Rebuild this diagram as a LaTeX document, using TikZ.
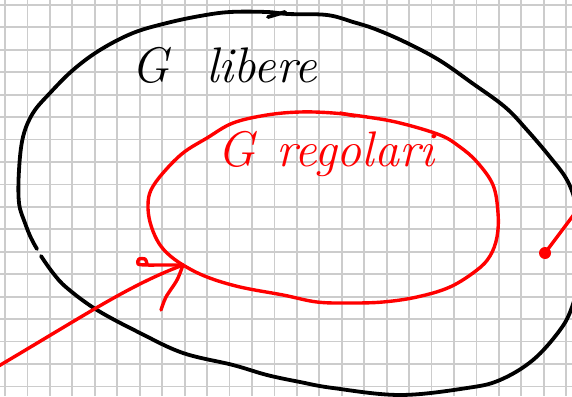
\documentclass[tikz,border=0pt]{standalone}
\usepackage{tikz}

\begin{document}
\begin{tikzpicture}[x=1pt,y=-1pt,
    gridline/.style={draw=gray!40,line width=1.8pt},
    blackpen/.style={draw=black,line width=3.8pt,line cap=round,line join=round},
    redpen/.style={draw=red,line width=3.4pt,line cap=round,line join=round},
    handtext/.style={font=\fontsize{50}{54}\selectfont\itshape,inner sep=0pt,anchor=base west}]
    \useasboundingbox (0,0) rectangle (572,396);
    \clip (0,0) rectangle (572,396);
    \fill[white] (0,0) rectangle (572,396);
    % squared paper
    \foreach \i in {0,...,25}
        \draw[gridline] (5+22.45*\i,0) -- (5+22.45*\i,396);
    \foreach \j in {0,...,17}
        \draw[gridline] (0,4.8+22.45*\j) -- (572,4.8+22.45*\j);

    % outer set
    \draw[blackpen] plot[smooth,tension=0.6] coordinates {(41,256) (53,273) (67,288) (97,310) (140,333) (183,353) (233,365) (267,375) (300,382) (333,388) (400,395) (467,388) (500,380) (533,360) (560,330) (572,307) (580,275) (581,240) (576,205) (567,180) (550,157) (527,130) (505,107) (472,83) (439,60) (405,42) (375,29) (353,22) (327,15) (288,14) (267,12) (230,12) (200,16) (167,23) (133,33) (100,50) (73,70) (50,93) (33,113) (23,137) (19,170) (19,203) (25,223) (31,238) (37,249)};
    \draw[blackpen] (285,12) -- (268,17);
    \node[handtext] (libere) at (131,82) {G\hspace{37pt}libere};

    % inner set
    \coordinate (tip) at (183,265);
    \draw[redpen] plot[smooth cycle,tension=0.6] coordinates {(tip) (207,277) (240,287) (283,295) (317,302) (350,303) (383,302) (417,297) (450,287) (477,270) (490,256) (497,237) (498,213) (493,185) (477,162) (460,147) (440,135) (400,123) (367,117) (333,113) (300,112) (267,115) (233,123) (207,138) (183,153) (163,173) (151,190) (148,205) (150,222) (157,240) (167,253)};
    \draw[redpen] (340,113) -- (355,116);
    \node[handtext,red] (regolari) at (217,166) {G\hspace{21pt}regolari};

    % arrow into the inner set
    \coordinate (tail) at (-3,367);
    \draw[redpen] (tail) .. controls (90,312) and (130,285) .. (tip);
    \draw[redpen] plot[smooth] coordinates {(tip) (162,265) (146,265) (138,264) (139,259) (145,259) (147,264)};
    \draw[redpen] plot[smooth] coordinates {(tip) (177,280) (166,297) (161,310)};

    % point outside
    \node[shape=circle,fill=red,inner sep=0pt,minimum size=12pt] (pt) at (545,253) {};
    \coordinate (out) at (578,209);
    \draw[redpen] (pt.center) -- (out);
\end{tikzpicture}
\end{document}
